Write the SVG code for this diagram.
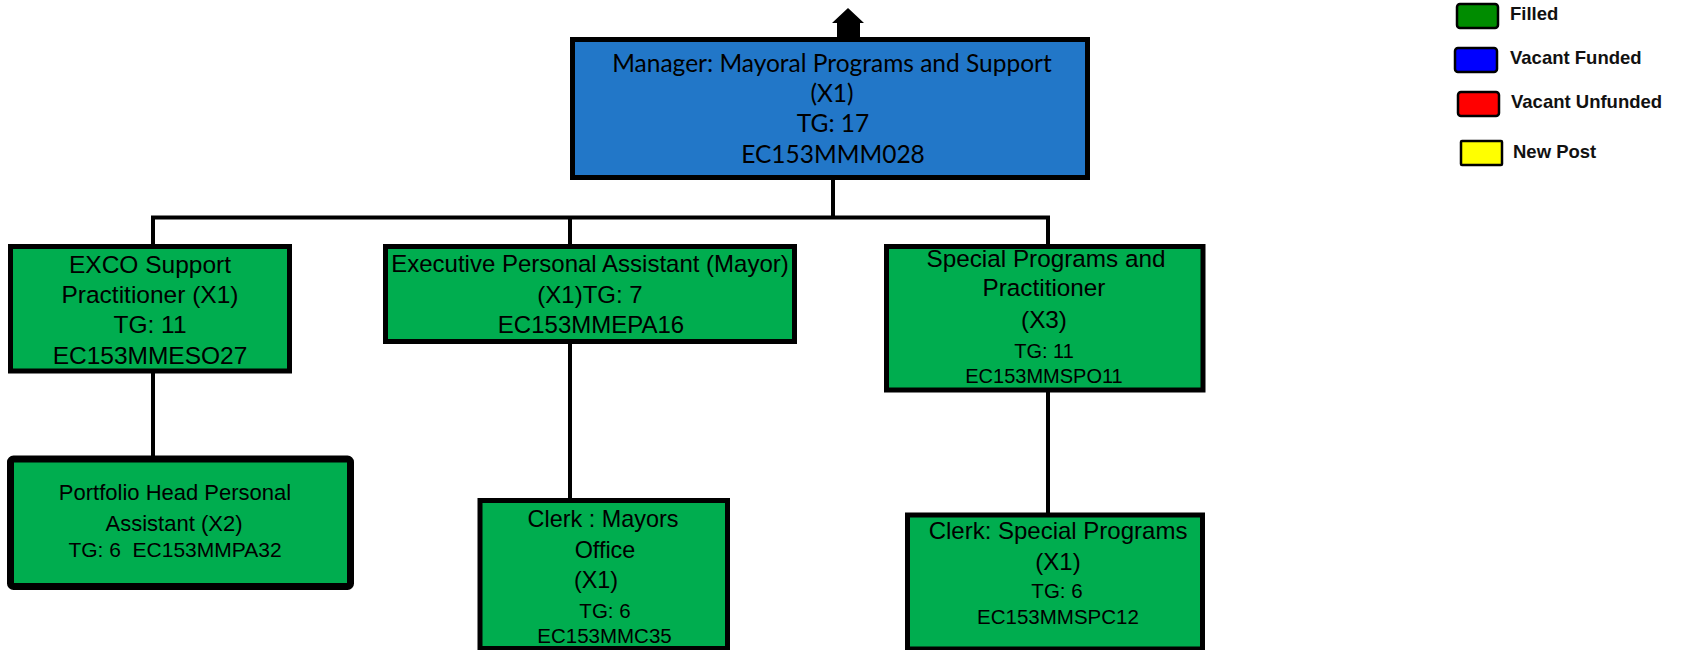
<svg xmlns="http://www.w3.org/2000/svg" width="1687" height="650" viewBox="0 0 1687 650">
<style>
.box{stroke:#000;stroke-width:5}
.green{fill:#00ad4f}
.blue{fill:#2277c8}
.t{font-family:"Liberation Sans",Arial,sans-serif;fill:#000;text-anchor:middle}
.m{font-family:Lato,"Open Sans",sans-serif;font-size:24.5px;fill:#000;text-anchor:middle}
.lg{font-family:"Liberation Sans",Arial,sans-serif;font-weight:bold;font-size:18.5px;fill:#111}
.sw{stroke:#000;stroke-width:2.5}
.conn{stroke:#000;stroke-width:4;fill:none}
</style>
<rect width="1687" height="650" fill="#fff"/>
<g id="connectors">
<path class="conn" d="M833,178 V217.5 M151,217.5 H1050 M153,217.5 V246 M570,217.5 V246 M1048,217.5 V246 M153,371 V459 M570,341 V500 M1048,390 V515"/>
<polygon points="848,8 864,23 860,23 860,38 837,38 837,23 832,23" fill="#000"/>
</g>
<g id="manager">
<rect class="box blue" x="572.5" y="39.5" width="515" height="138"/>
<text class="m" x="832" y="72">Manager: Mayoral Programs and Support</text>
<text class="m" x="832" y="102">(X1)</text>
<text class="m" x="833" y="132">TG: 17</text>
<text class="m" x="833" y="163">EC153MMM028</text>
</g>
<g id="exco">
<rect class="box green" x="10.5" y="246.5" width="279" height="124.5"/>
<text class="t" font-size="24.5" x="150" y="273">EXCO Support</text>
<text class="t" font-size="24.5" x="150" y="303">Practitioner (X1)</text>
<text class="t" font-size="24.5" x="150" y="333">TG: 11</text>
<text class="t" font-size="24.5" x="150" y="364">EC153MMESO27</text>
</g>
<g id="epa">
<rect class="box green" x="385.5" y="246.5" width="409" height="95"/>
<text class="t" font-size="24" x="590" y="272">Executive Personal Assistant (Mayor)</text>
<text class="t" font-size="24" x="590" y="303">(X1)TG: 7</text>
<text class="t" font-size="24" x="591" y="333">EC153MMEPA16</text>
</g>
<g id="special">
<rect class="box green" x="886.5" y="246.5" width="316.5" height="143.5"/>
<text class="t" font-size="24.3" x="1046" y="267">Special Programs and</text>
<text class="t" font-size="24.3" x="1044" y="296">Practitioner</text>
<text class="t" font-size="24.3" x="1044" y="328">(X3)</text>
<text class="t" font-size="20" x="1044" y="358">TG: 11</text>
<text class="t" font-size="20" x="1044" y="383">EC153MMSPO11</text>
</g>
<g id="portfolio">
<rect class="green" x="10.5" y="459" width="340" height="127.5" rx="3" stroke="#000" stroke-width="7"/>
<text class="t" font-size="22" x="175" y="500">Portfolio Head Personal</text>
<text class="t" font-size="22" x="174" y="531">Assistant (X2)</text>
<text class="t" font-size="21" x="175" y="557">TG: 6&#160; EC153MMPA32</text>
</g>
<g id="clerk-mayors">
<rect class="box green" x="480" y="500.5" width="247.5" height="148"/>
<text class="t" font-size="23.4" x="603" y="527">Clerk : Mayors</text>
<text class="t" font-size="23.4" x="605" y="558">Office</text>
<text class="t" font-size="23.4" x="596" y="588">(X1)</text>
<text class="t" font-size="20.5" x="605" y="618">TG: 6</text>
<text class="t" font-size="20.5" x="604.5" y="643">EC153MMC35</text>
</g>
<g id="clerk-special">
<rect class="box green" x="907.5" y="515" width="295" height="134"/>
<text class="t" font-size="24" x="1058" y="539">Clerk: Special Programs</text>
<text class="t" font-size="24" x="1058" y="570">(X1)</text>
<text class="t" font-size="20.5" x="1057" y="598">TG: 6</text>
<text class="t" font-size="20.5" x="1058" y="624">EC153MMSPC12</text>
</g>
<g id="legend">
<rect class="sw" x="1457" y="4" width="41" height="24" rx="3" fill="#008c00"/>
<text class="lg" x="1510" y="20">Filled</text>
<rect class="sw" x="1455" y="48" width="42" height="24" rx="3" fill="#0000ff"/>
<text class="lg" x="1510" y="64">Vacant Funded</text>
<rect class="sw" x="1458" y="92" width="41" height="24" rx="3" fill="#ff0000"/>
<text class="lg" x="1511" y="108">Vacant Unfunded</text>
<rect class="sw" x="1461" y="141" width="41" height="24" rx="1" fill="#ffff00"/>
<text class="lg" x="1513" y="158">New Post</text>
</g>
</svg>
